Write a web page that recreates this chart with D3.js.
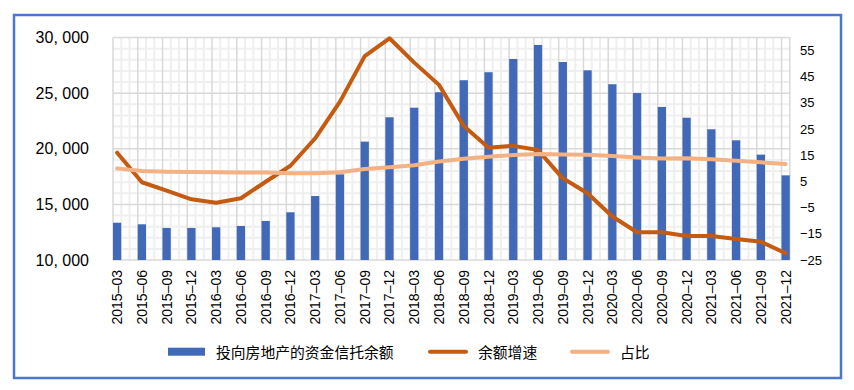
<!DOCTYPE html>
<html>
<head>
<meta charset="utf-8">
<script src="https://cdn.jsdelivr.net/npm/d3@7"></script>
<style>
  html, body { margin: 0; padding: 0; background: #ffffff; }
  svg { display: block; }
  text { font-family: "Liberation Sans", Arial, "Noto Sans CJK SC", sans-serif; fill: #000; }
  .cjk { font-family: "Noto Sans CJK SC", "Liberation Sans", sans-serif; }
</style>
</head>
<body>
<svg id="chart" width="854" height="390"></svg>
<script>
// ---- data ----
const categories = [
  "2015–03","2015–06","2015–09","2015–12",
  "2016–03","2016–06","2016–09","2016–12",
  "2017–03","2017–06","2017–09","2017–12",
  "2018–03","2018–06","2018–09","2018–12",
  "2019–03","2019–06","2019–09","2019–12",
  "2020–03","2020–06","2020–09","2020–12",
  "2021–03","2021–06","2021–09","2021–12"
];
// 投向房地产的资金信托余额 (left axis)
const balance = [13350, 13210, 12880, 12880, 12940, 13060, 13510, 14290,
                 15750, 17700, 20640, 22830, 23690, 25080, 26160, 26880,
                 28070, 29330, 27800, 27050, 25800, 25010, 23760, 22790,
                 21750, 20760, 19470, 17610];
// 余额增速 (right axis)
const growth = [16.0, 4.7, 1.5, -1.8, -3.1, -1.4, 4.9, 11.0,
                21.5, 35.5, 52.9, 59.7, 50.4, 41.9, 26.2, 17.9,
                18.6, 17.0, 6.2, 0.5, -8.4, -14.4, -14.4, -15.8,
                -15.8, -17.0, -18.0, -22.4];
// 占比 (right axis)
const share = [10.0, 9.0, 8.75, 8.6, 8.5, 8.4, 8.4, 8.1,
               8.1, 8.5, 9.8, 10.4, 11.2, 12.6, 13.7, 14.4,
               15.1, 15.5, 15.3, 15.2, 14.7, 14.2, 13.8, 13.9,
               13.5, 12.9, 12.3, 11.7];
const leftTicks = [10000, 15000, 20000, 25000, 30000];
const rightTicks = [-25, -15, -5, 5, 15, 25, 35, 45, 55];
const seriesNames = ["投向房地产的资金信托余额", "余额增速", "占比"];

// ---- layout ----
const svg = d3.select("#chart");
const plotLeft = 113, plotTop = 37.5, plotBottom = 260;
const step = 24.76;

const x = d3.scaleBand().domain(categories)
  .range([plotLeft, plotLeft + step * categories.length]).padding(0);
const bw = x.bandwidth();
const barW = bw / 3;
const plotRight = x(categories[categories.length - 1]) + barW;
const cx = c => x(c) + barW / 2;

const yL = d3.scaleLinear().domain([10000, 30000]).range([plotBottom, plotTop]);
const yR = d3.scaleLinear().domain([-25, 60]).range([plotBottom, plotTop]);

// outer frame
svg.append("rect")
  .attr("x", 14).attr("y", 15).attr("width", 827).attr("height", 363)
  .attr("fill", "none").attr("stroke", "#4a78cf").attr("stroke-width", 2.5);

// grid
const grid = svg.append("g");
// minor horizontal
d3.range(10000, 30001, 1000).filter(v => v % 5000 !== 0).forEach(v => {
  grid.append("line").attr("x1", plotLeft).attr("x2", plotRight)
    .attr("y1", yL(v)).attr("y2", yL(v))
    .attr("stroke", "#efefef").attr("stroke-width", 2);
});
// minor vertical
categories.forEach((c, i) => {
  [1, 2].forEach(k => {
    const xx = x(c) + k * bw / 3;
    if (xx < plotRight - 0.5) {
      grid.append("line").attr("x1", xx).attr("x2", xx)
        .attr("y1", plotTop).attr("y2", plotBottom)
        .attr("stroke", "#efefef").attr("stroke-width", 2);
    }
  });
});
// major horizontal
leftTicks.forEach(v => {
  grid.append("line").attr("x1", plotLeft).attr("x2", plotRight)
    .attr("y1", yL(v)).attr("y2", yL(v))
    .attr("stroke", "#d9d9d9").attr("stroke-width", 1.5);
});
// major vertical
categories.forEach(c => {
  grid.append("line").attr("x1", x(c)).attr("x2", x(c))
    .attr("y1", plotTop).attr("y2", plotBottom)
    .attr("stroke", "#d9d9d9").attr("stroke-width", 1.5);
});
grid.append("line").attr("x1", plotRight).attr("x2", plotRight)
  .attr("y1", plotTop).attr("y2", plotBottom)
  .attr("stroke", "#d9d9d9").attr("stroke-width", 1.5);

// bars
svg.append("g").selectAll("rect").data(balance).join("rect")
  .attr("x", (d, i) => x(categories[i]))
  .attr("y", d => yL(d))
  .attr("width", barW)
  .attr("height", d => plotBottom - yL(d))
  .attr("fill", "#4169b8");

// lines
const lineGen = yScale => d3.line()
  .x((d, i) => cx(categories[i]))
  .y(d => yScale(d));

svg.append("path").datum(growth)
  .attr("d", lineGen(yR))
  .attr("fill", "none").attr("stroke", "#c55a11")
  .attr("stroke-width", 4).attr("stroke-linejoin", "round").attr("stroke-linecap", "round");

svg.append("path").datum(share)
  .attr("d", lineGen(yR))
  .attr("fill", "none").attr("stroke", "#f4b183")
  .attr("stroke-width", 4).attr("stroke-linejoin", "round").attr("stroke-linecap", "round");

// left axis labels
const fmtL = v => d3.format(",")(v).replace(",", ", ");
svg.append("g").selectAll("text").data(leftTicks).join("text")
  .attr("x", 89).attr("y", d => yL(d))
  .attr("text-anchor", "end").attr("dominant-baseline", "central")
  .attr("font-size", 16)
  .text(fmtL);

// right axis labels
svg.append("g").selectAll("text").data(rightTicks).join("text")
  .attr("x", 800).attr("y", d => yR(d))
  .attr("text-anchor", "start").attr("dominant-baseline", "central")
  .attr("font-size", 13)
  .text(d => d3.format("")(d));

// x labels
svg.append("g").selectAll("text").data(categories).join("text")
  .attr("transform", c => `translate(${cx(c)},270) rotate(-90)`)
  .attr("text-anchor", "end").attr("dominant-baseline", "central")
  .attr("font-size", 14)
  .text(c => c);

// legend
const lg = svg.append("g");
const ly = 351.7;
lg.append("rect").attr("x", 168).attr("y", ly - 4).attr("width", 37).attr("height", 8).attr("fill", "#4169b8");
lg.append("text").attr("class", "cjk").attr("x", 216).attr("y", ly)
  .attr("dominant-baseline", "central").attr("font-size", 14.8).text(seriesNames[0]);
lg.append("line").attr("x1", 430).attr("x2", 466).attr("y1", ly).attr("y2", ly)
  .attr("stroke", "#c55a11").attr("stroke-width", 4).attr("stroke-linecap", "round");
lg.append("text").attr("class", "cjk").attr("x", 478).attr("y", ly)
  .attr("dominant-baseline", "central").attr("font-size", 14.8).text(seriesNames[1]);
lg.append("line").attr("x1", 572).attr("x2", 608).attr("y1", ly).attr("y2", ly)
  .attr("stroke", "#f4b183").attr("stroke-width", 4).attr("stroke-linecap", "round");
lg.append("text").attr("class", "cjk").attr("x", 620).attr("y", ly)
  .attr("dominant-baseline", "central").attr("font-size", 14.8).text(seriesNames[2]);
</script>
</body>
</html>
